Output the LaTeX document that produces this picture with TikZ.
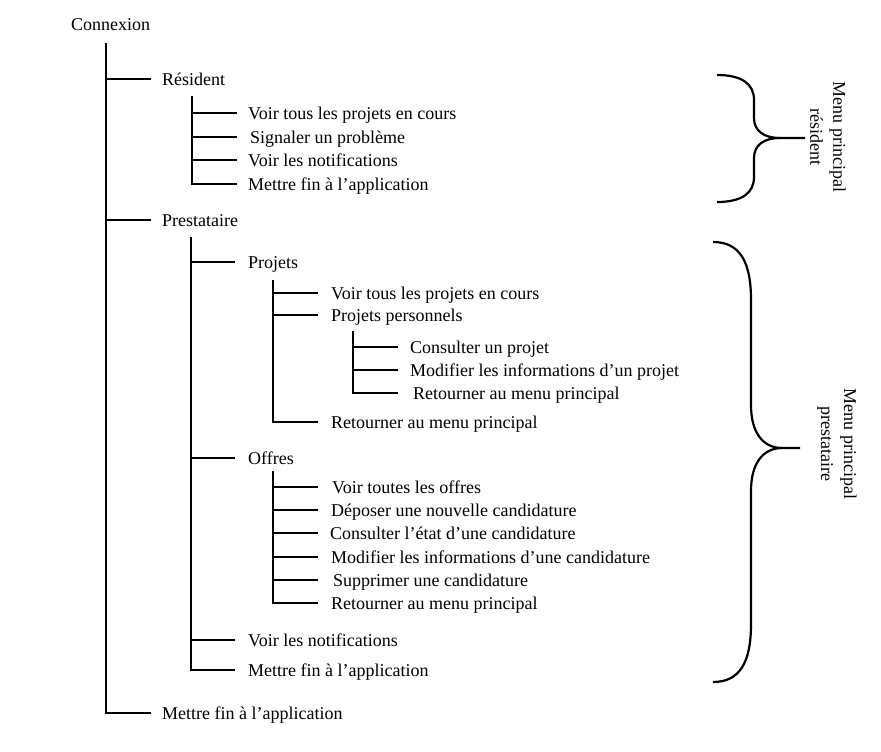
\documentclass[tikz,border=0pt]{standalone}
\usepackage{fontspec}
\setmainfont{Liberation Serif}
\begin{document}
\begin{tikzpicture}[x=1pt,y=1pt,
  every node/.style={font=\fontsize{18}{23}\selectfont},
  item/.style={anchor=west, inner sep=0pt, text height=12pt, text depth=0pt},
  ln/.style={line width=2pt, line cap=butt},
  brace/.style={line width=2.2pt},
  lab/.style={rotate=-90, align=center, inner sep=0pt}]
\path[use as bounding box] (0,0) rectangle (881,-752);

% root
\node[anchor=base west, inner sep=0pt] (con) at (71,-31) {Connexion};
\coordinate (t0) at (106,-43);

% level 1
\node[item] (res) at (162,-79) {Résident};
\node[item] (pre) at (162,-220) {Prestataire};
\node[item] (fin) at (162,-713) {Mettre fin à l’application};
\draw[ln] (t0) |- ([xshift=-11pt]fin.west);
\draw[ln] (t0 |- res.west) -- ([xshift=-11pt]res.west);
\draw[ln] (t0 |- pre.west) -- ([xshift=-11pt]pre.west);

% Résident children
\coordinate (t1) at (192,-96);
\node[item] (r1) at (248,-113) {Voir tous les projets en cours};
\node[item] (r2) at (250,-137) {Signaler un problème};
\node[item] (r3) at (248,-160) {Voir les notifications};
\node[item] (r4) at (248,-184) {Mettre fin à l’application};
\draw[ln] (t1) |- ([xshift=-11pt]r4.west);
\draw[ln] (t1 |- r1.west) -- ([xshift=-11pt]r1.west);
\draw[ln] (t1 |- r2.west) -- ([xshift=-13pt]r2.west);
\draw[ln] (t1 |- r3.west) -- ([xshift=-11pt]r3.west);

% Prestataire children
\coordinate (t2) at (191,-237);
\node[item] (proj) at (248,-262) {Projets};
\node[item] (off) at (248,-458) {Offres};
\node[item] (pn) at (248,-640) {Voir les notifications};
\node[item] (pf) at (248,-670) {Mettre fin à l’application};
\draw[ln] (t2) |- ([xshift=-13pt]pf.west);
\draw[ln] (t2 |- proj.west) -- ([xshift=-13pt]proj.west);
\draw[ln] (t2 |- off.west) -- ([xshift=-13pt]off.west);
\draw[ln] (t2 |- pn.west) -- ([xshift=-13pt]pn.west);

% Projets children
\coordinate (t3) at (273,-280);
\node[item] (p1) at (331,-293) {Voir tous les projets en cours};
\node[item] (p2) at (331,-315) {Projets personnels};
\node[item] (p3) at (331,-422) {Retourner au menu principal};
\draw[ln] (t3) |- ([xshift=-13pt]p3.west);
\draw[ln] (t3 |- p1.west) -- ([xshift=-13pt]p1.west);
\draw[ln] (t3 |- p2.west) -- ([xshift=-13pt]p2.west);

% Projets personnels children
\coordinate (t4) at (353,-331);
\node[item] (q1) at (410,-347) {Consulter un projet};
\node[item] (q2) at (410,-370) {Modifier les informations d’un projet};
\node[item] (q3) at (413,-393) {Retourner au menu principal};
\draw[ln] (t4) |- ([xshift=-15pt]q3.west);
\draw[ln] (t4 |- q1.west) -- ([xshift=-12pt]q1.west);
\draw[ln] (t4 |- q2.west) -- ([xshift=-12pt]q2.west);

% Offres children
\coordinate (t5) at (273,-471);
\node[item] (o1) at (332,-487) {Voir toutes les offres};
\node[item] (o2) at (331,-510) {Déposer une nouvelle candidature};
\node[item] (o3) at (330,-533) {Consulter l’état d’une candidature};
\node[item] (o4) at (331,-557) {Modifier les informations d’une candidature};
\node[item] (o5) at (333,-580) {Supprimer une candidature};
\node[item] (o6) at (331,-603) {Retourner au menu principal};
\draw[ln] (t5) |- ([xshift=-13pt]o6.west);
\draw[ln] (t5 |- o1.west) -- ([xshift=-14pt]o1.west);
\draw[ln] (t5 |- o2.west) -- ([xshift=-13pt]o2.west);
\draw[ln] (t5 |- o3.west) -- ([xshift=-12pt]o3.west);
\draw[ln] (t5 |- o4.west) -- ([xshift=-13pt]o4.west);
\draw[ln] (t5 |- o5.west) -- ([xshift=-15pt]o5.west);

% Brace résident
\draw[brace] (717,-75) .. controls (742,-75) and (754,-84) .. (754,-100)
  -- (754,-118) .. controls (754,-131) and (764,-138) .. (780,-138) -- (805,-138);
\draw[brace] (780,-138) .. controls (764,-138) and (754,-145) .. (754,-158)
  -- (754,-177) .. controls (754,-193) and (742,-202) .. (717,-202);
\node[lab] (lr) at (828,-137) {Menu principal\\résident};

% Brace prestataire
\draw[brace] (713,-242) .. controls (740,-242) and (751,-262) .. (751,-300)
  -- (751,-405) .. controls (751,-434) and (764,-448) .. (782,-448) -- (800,-448);
\draw[brace] (782,-448) .. controls (764,-448) and (751,-462) .. (751,-491)
  -- (751,-624) .. controls (751,-662) and (740,-682) .. (713,-682);
\node[lab] (lp) at (837,-444) {Menu principal\\prestataire};
\end{tikzpicture}
\end{document}
